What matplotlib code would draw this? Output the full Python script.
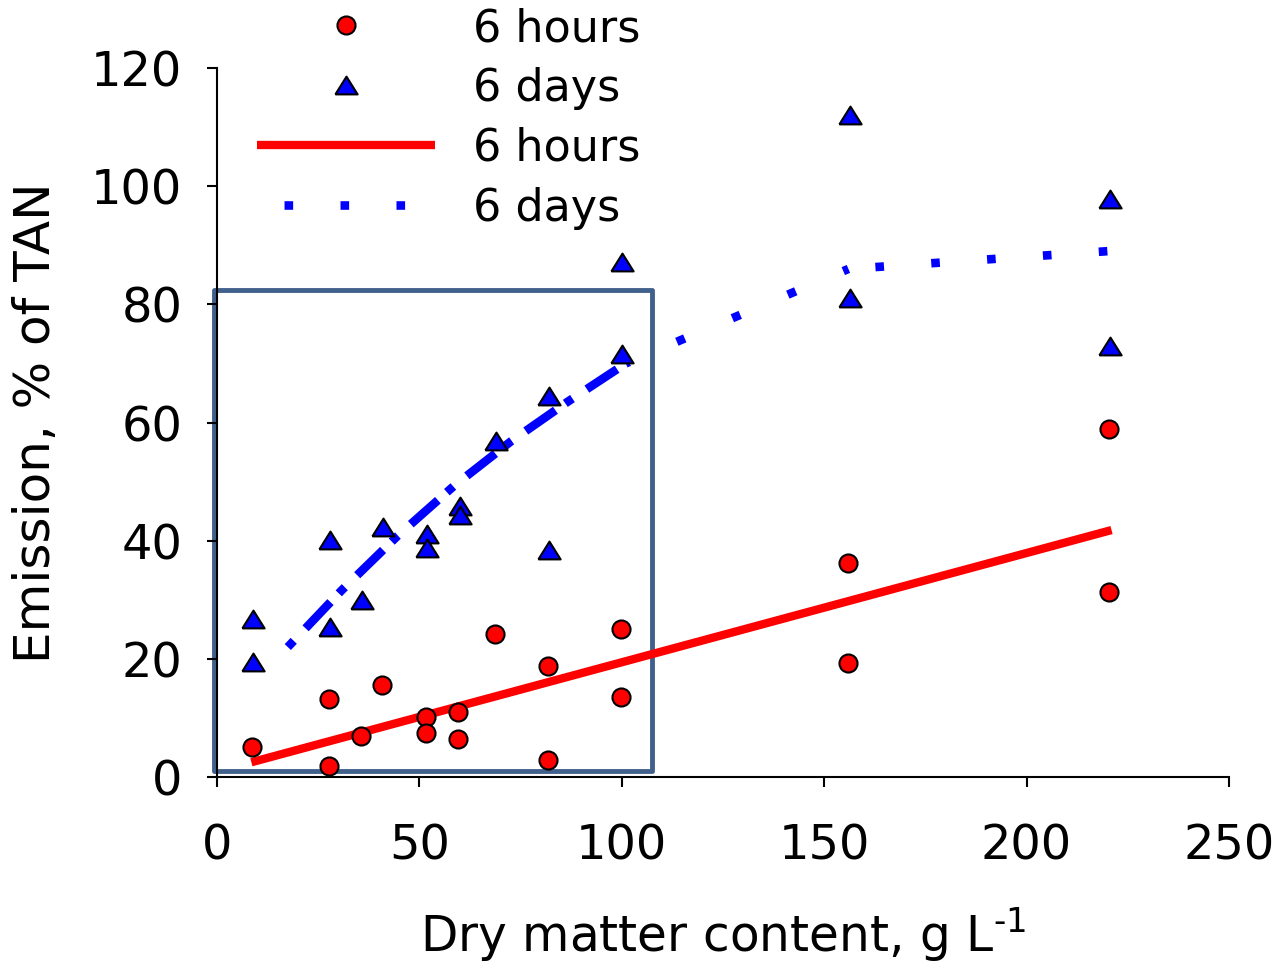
import matplotlib
matplotlib.use("Agg")
import matplotlib.pyplot as plt
from matplotlib.patches import Rectangle

# measured emissions, % of TAN
hours_x = [8.6, 27.7, 27.7, 35.6, 40.7, 51.6, 51.6, 59.6, 59.6, 68.7, 81.7, 81.7,
           99.8, 99.8, 155.9, 155.9, 220.3, 220.3]
hours_y = [5.0, 1.9, 13.2, 7.0, 15.6, 10.1, 7.4, 11.0, 6.5, 24.2, 18.8, 2.8,
           25.0, 13.6, 36.2, 19.3, 58.9, 31.3]

days_x = [9.0, 9.0, 27.9, 27.9, 35.9, 40.9, 52.0, 52.0, 60.0, 60.0, 68.9, 82.0, 82.0,
          100.1, 100.0, 156.3, 156.3, 220.6, 220.6]
days_y = [26.7, 19.4, 40.2, 25.4, 30.0, 42.4, 41.1, 38.7, 45.9, 44.3, 56.9, 64.5, 38.4,
          71.6, 87.2, 112.1, 81.0, 97.9, 73.0]

# fitted curves
hours_fit_x = [8.5, 221.0]
hours_fit_y = [2.5, 41.8]

days_fit_x = [17.5, 30.8, 44.6, 58.6, 72.6, 86.6, 101.0, 156.0, 220.0]
days_fit_y = [22.0, 31.6, 40.8, 49.3, 56.8, 63.5, 70.0, 86.0, 89.0]

# highlighted range (x from, x to, y from, y to)
box_x = [-0.7, 107.4]
box_y = [1.0, 82.5]

x_ticks = [0, 50, 100, 150, 200, 250]
y_ticks = [0, 20, 40, 60, 80, 100, 120]

fig = plt.figure(figsize=(12.8, 9.69), dpi=100)
ax = fig.add_axes([0.1695, 0.1981, 0.7906, 0.7317])

ax.add_patch(Rectangle((box_x[0], box_y[0]), box_x[1] - box_x[0], box_y[1] - box_y[0],
                       fill=False, ec='#41608C', lw=3.5, clip_on=False, zorder=1,
                       joinstyle='round'))

fit_h, = ax.plot(hours_fit_x, hours_fit_y, color='#FF0000', lw=6, zorder=2,
                 solid_capstyle='butt', clip_on=False)

# 6-day fit: dash-dot over the steep part, square dots further on
k = 6
ax.plot(days_fit_x[:k + 1], days_fit_y[:k + 1], color='#0000FF', lw=6.2, zorder=2,
        linestyle=(0, (1, 2.0, 4.2, 1.4)), clip_on=False)
ax.plot(days_fit_x[k:k + 2], days_fit_y[k:k + 2], color='#0000FF', lw=6.2, zorder=2,
        linestyle=(0.56, (1, 6.0)), clip_on=False)
fit_d, = ax.plot(days_fit_x[k + 1:], days_fit_y[k + 1:], color='#0000FF', lw=6.2,
                 zorder=2, linestyle=(3.36, (1, 5.5)), clip_on=False)

pts_h, = ax.plot(hours_x, hours_y, 'o', ms=13, mfc='#FF0000', mec='black', mew=1.5,
                 zorder=3, clip_on=False)
tri = [(-1, -0.8), (1, -0.8), (0, 0.8), (-1, -0.8)]
pts_d, = ax.plot(days_x, days_y, linestyle='none', marker=tri, ms=16, mfc='#0000FF',
                 mec='black', mew=1.5, zorder=3, clip_on=False)

ax.set_xlim(0, 250)
ax.set_ylim(0, 120)
ax.set_xticks(x_ticks)
ax.set_yticks(y_ticks)

for s in ['top', 'right']:
    ax.spines[s].set_visible(False)
for s in ['left', 'bottom']:
    ax.spines[s].set_linewidth(1.5)

ax.tick_params(axis='both', direction='out', length=7, width=1.5, labelsize=34.5)
ax.tick_params(axis='x', pad=26)
ax.tick_params(axis='y', pad=18)

ax.set_xlabel('Dry matter content, g L$^{\\text{-1}}$', fontsize=35, labelpad=26)
ax.set_ylabel('Emission, % of TAN', fontsize=36, labelpad=22)

leg = ax.legend([pts_h, pts_d, fit_h, fit_d], ['6 hours', '6 days', '6 hours', '6 days'],
                loc='upper left', bbox_to_anchor=(257 / 1280, 1 - 7 / 969),
                bbox_transform=fig.transFigure, frameon=False, fontsize=32,
                handlelength=4.0, handletextpad=0.87, labelspacing=0.38,
                borderpad=0, borderaxespad=0)

fig.savefig('out.png', dpi=100)
